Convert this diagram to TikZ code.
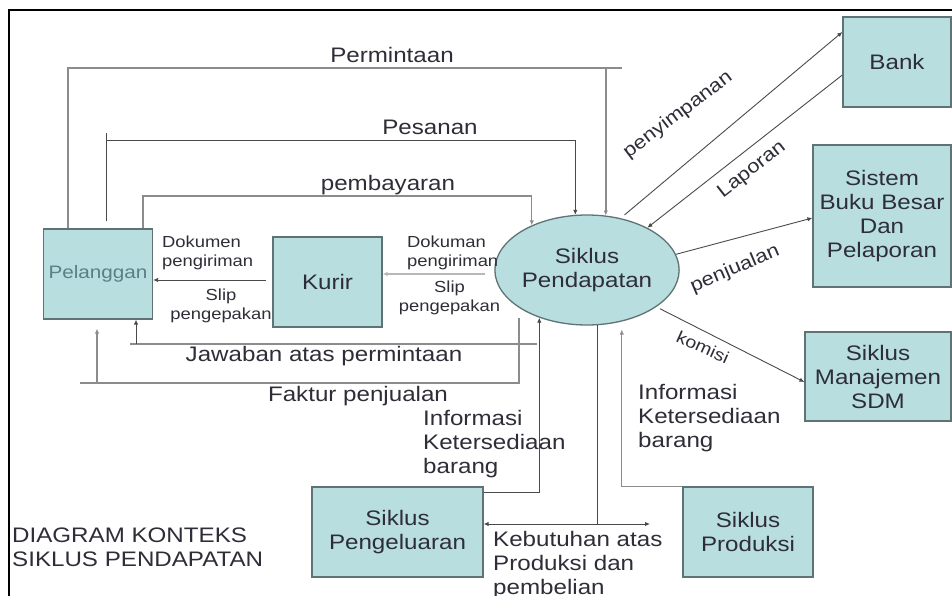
\documentclass[tikz,border=0pt]{standalone}
\usepackage{fontspec}
\setmainfont[FakeStretch=1.15]{Liberation Sans}
\usetikzlibrary{shapes.geometric,arrows.meta,calc}
\definecolor{boxfill}{HTML}{B9DEE0}
\definecolor{boxline}{HTML}{5F7375}
\definecolor{txt}{HTML}{2E2E38}
\definecolor{peltxt}{HTML}{5C7E84}
\definecolor{dk}{HTML}{4A4A4A}
\definecolor{lg}{HTML}{B8B8B8}
\definecolor{mg}{HTML}{8C8C8C}
\begin{document}
\begin{tikzpicture}[x=1pt,y=-1pt,
  box/.style={draw=boxline, fill=boxfill, line width=1.3pt, inner sep=0pt, text=txt,
    font=\fontsize{21}{24}\selectfont, align=center},
  lab/.style={text=txt, font=\fontsize{21}{24}\selectfont, inner sep=0pt},
  slab/.style={text=txt, font=\fontsize{16}{19}\selectfont, inner sep=0pt},
  rlab/.style={text=txt, font=\fontsize{19}{22}\selectfont, inner sep=0pt},
  conn/.style={draw=dk, line width=0.9pt},
  flow/.style={conn, -{Latex[length=5pt,width=4.5pt]}},
  flowboth/.style={conn, {Latex[length=5pt,width=4.5pt]}-{Latex[length=5pt,width=4.5pt]}}
]
\useasboundingbox (0,0) rectangle (952,596);
\fill[white] (0,0) rectangle (952,596);
% frame
\draw[line width=2pt, black] (9,596) -- (9,10) -- (952,10);

% nodes
\node[box, minimum width=109pt, minimum height=90pt, text=peltxt,
      font=\fontsize{18}{21}\selectfont] (pel) at (98,274) {Pelanggan};
\node[box, minimum width=109pt, minimum height=90pt] (kur) at (327.5,282) {Kurir};
\node[box, ellipse, minimum width=146pt, minimum height=110pt] (sik) at (587,270) {Siklus\\Pendapatan};
\node[box, minimum width=108pt, minimum height=90pt] (bank) at (897,62) {Bank};
\node[box, minimum width=138pt, minimum height=142pt] (sbb) at (882,216) {Sistem\\Buku Besar\\Dan\\Pelaporan};
\node[box, minimum width=146pt, minimum height=89pt] (sdm) at (878,376.5) {Siklus\\Manajemen\\SDM};
\node[box, minimum width=130pt, minimum height=90pt] (prod) at (748,532) {Siklus\\Produksi};
\node[box, minimum width=171pt, minimum height=90pt] (peng) at (397.5,532) {Siklus\\Pengeluaran};

% helper coordinates
\coordinate (permR) at (622,68);
\coordinate (jwR) at (537,344);
\coordinate (jwL) at (130,344);
\coordinate (fkL) at (80,383);
\coordinate (kebR) at (650,524);

% Permintaan
\draw[flow, draw=mg, line width=1.6pt] (pel.north -| 68,0) -- (68,68) -| (sik.71);
\draw[conn, draw=mg, line width=1.6pt] (sik.71 |- 0,68) -- (permR);
% Pesanan
\draw[flow, shorten <=7pt] (pel.north -| 106,0) -- (106,140) -| (sik.102);
\draw[conn] (106,140) -- (106,133);
% pembayaran
\draw[flow, draw=mg, line width=1.2pt] (pel.north -| 143,0) -- (143,196) -| (sik.141);
% Kurir -> Pelanggan
\draw[flow, shorten <=6pt] (kur.west |- 0,280) -- (pel.east |- 0,280);
% Siklus -> Kurir
\draw[flow, draw=lg, line width=2.4pt, shorten <=9pt] (sik.west |- 0,274) -- (kur.east |- 0,274);
% Jawaban atas permintaan
\draw[conn, draw=mg, line width=1.6pt] (jwR) -- (jwL);
\draw[flow] (136,344) -- (pel.south -| 136,0);
% Faktur penjualan
\draw[conn, draw=mg, line width=1.6pt, shorten <=10pt] (sik.209) -- (sik.209 |- 0,383) -- (fkL);
\draw[flow, shorten >=9pt, draw=mg, line width=1.4pt] (97,383) -- (pel.south -| 97,0);
% Informasi Ketersediaan barang (Pengeluaran)
\draw[flow] (peng.east |- 0,492) -| (sik.225);
% Kebutuhan atas Produksi dan pembelian
\draw[flowboth] (peng.east |- 0,524) -- (kebR);
\draw[conn] (sik.-79) -- (sik.-79 |- 0,524);
% Informasi Ketersediaan barang (Produksi)
\draw[flow, draw=mg, line width=1.2pt, shorten >=8pt] (prod.north west) -| (sik.-56);
% penyimpanan
\draw[flow, shorten <=5pt] (sik.57) -- (bank.west |- 0,32);
% Laporan
\draw[flow] (bank.west |- 0,75) -- (sik.35);
% penjualan
\draw[flow] (sik.10) -- (sbb.west |- 0,218);
% komisi
\draw[flow, shorten <=4pt] (sik.-28) -- (sdm.west |- 0,382);

% labels
\node[lab] at (392,55) {Permintaan};
\node[lab] at (430,127) {Pesanan};
\node[lab] at (388,185) {pembayaran};
\node[slab, anchor=west, align=left] at (162,252.5) {Dokumen\\pengiriman};
\node[slab, align=center] at (221,306) {Slip\\pengepakan};
\node[slab, anchor=west, align=left] at (407,253) {Dokuman\\pengiriman};
\node[slab, align=center] at (449.5,298) {Slip\\pengepakan};
\node[lab] at (324,356) {Jawaban atas permintaan};
\node[lab] at (358,396) {Faktur penjualan};
\node[lab, anchor=west, align=left] at (423,444) {Informasi\\Ketersediaan\\barang};
\node[lab, anchor=west, align=left] at (638,418) {Informasi\\Ketersediaan\\barang};
\node[lab, anchor=west, align=left] at (493,565) {Kebutuhan atas\\Produksi dan\\pembelian};
\node[lab, anchor=west, align=left] at (12,547) {DIAGRAM KONTEKS\\SIKLUS PENDAPATAN};
\node[rlab, rotate=37] at (678,115) {penyimpanan};
\node[rlab, rotate=38] at (752,170) {Laporan};
\node[rlab, rotate=23] at (735,269) {penjualan};
\node[rlab, rotate=-24, font=\fontsize{17}{20}\selectfont] at (703,347) {komisi};
\end{tikzpicture}
\end{document}
